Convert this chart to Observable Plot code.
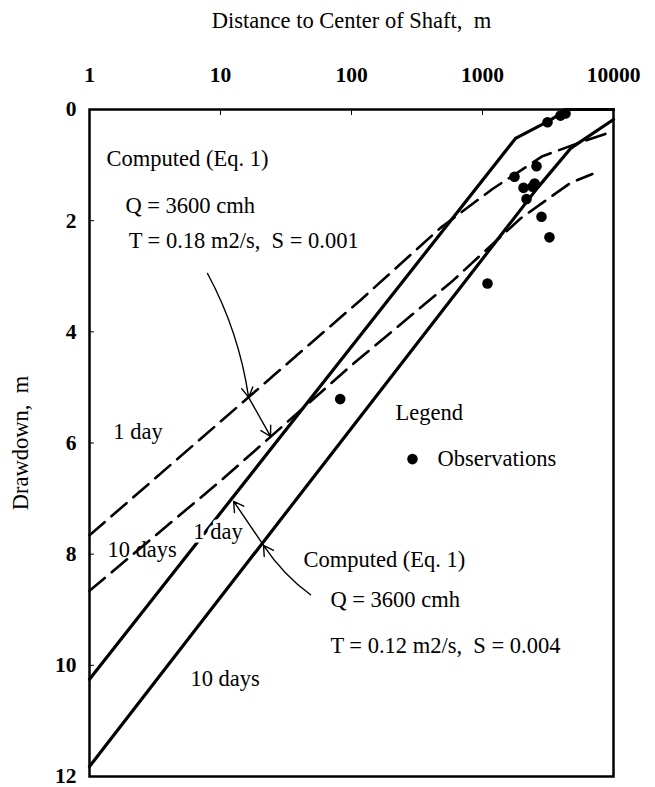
<!DOCTYPE html>
<html><head><meta charset="utf-8">
<script src="https://cdn.jsdelivr.net/npm/d3@7"></script>
<script src="https://cdn.jsdelivr.net/npm/@observablehq/plot@0.6"></script>
<style>body{margin:0;background:#fff} svg{display:block}</style>
</head><body><div id="chart"></div>
<script>
// ---- data (distance m, drawdown m) ----
const xTicks = [1, 10, 100, 1000, 10000];
const yTicks = [0, 2, 4, 6, 8, 10, 12];

// Computed (Eq. 1), T = 0.12 m2/s, S = 0.004 (solid)
const solid1Day   = [[1, 10.25], [1786, 0.52], [3190, 0.21], [4460, 0], [10000, 0]];
const solid10Days = [[1, 11.82], [2630, 1.41], [4700, 0.70], [10000, 0.18]];
// Computed (Eq. 1), T = 0.18 m2/s, S = 0.001 (dashed)
const dashed1Day   = [[1, 7.66], [117, 3.43], [478, 2.13], [1192, 1.43], [2870, 0.84], [5300, 0.61], [10000, 0.39]];
const dashed10Days = [[1, 8.66], [10.5, 6.64], [98, 4.62], [600, 3.07], [1950, 1.96], [4700, 1.32], [6900, 1.16]];

const observations = [[82, 5.21], [1092, 3.13], [1755, 1.21], [2056, 1.41], [2410, 1.39], [2500, 1.33],
  [2168, 1.61], [2585, 1.02], [2820, 1.93], [3245, 2.30], [3135, 0.23], [3940, 0.11], [4300, 0.07]];

const notes = [
  {x: 1.35, y: 0.89, text: "Computed (Eq. 1)"},
  {x: 1.88, y: 1.73, text: "Q = 3600 cmh"},
  {x: 1.99, y: 2.36, text: "T = 0.18 m2/s,\u00a0 S = 0.001"},
  {x: 1.52, y: 5.80, text: "1 day"},
  {x: 1.37, y: 7.93, text: "10 days"},
  {x: 5.9,  y: 10.25, text: "10 days"},
  {x: 43,   y: 8.11, text: "Computed (Eq. 1)"},
  {x: 69,   y: 8.82, text: "Q = 3600 cmh"},
  {x: 69,   y: 9.64, text: "T = 0.12 m2/s,\u00a0 S = 0.004"},
  {x: 217,  y: 5.45, text: "Legend"},
  {x: 453,  y: 6.29, text: "Observations"}
];
const haloNotes = [{x: 6.2, y: 7.59, text: "1 day"}];
const legendDot = [[292, 6.29]];

const curvedArrows = [
  {x1: 7.96, y1: 2.95, x2: 16.4, y2: 5.18},
  {x1: 48.7, y1: 8.73, x2: 21.3, y2: 7.84}
];
const straightArrows = [
  {x1: 16.4, y1: 5.18, x2: 24.1, y2: 5.88},
  {x1: 21.3, y1: 7.84, x2: 12.6, y2: 7.05}
];

const FONT = "'Liberation Serif', 'Times New Roman', serif";
const FS = 22.5;

const chart = Plot.plot({
  width: 655,
  height: 787,
  marginTop: 109,
  marginRight: 42,
  marginBottom: 11,
  marginLeft: 89,
  style: {fontFamily: FONT, fontSize: "21px", background: "#fff", color: "#000"},
  x: {type: "log", domain: [1, 10000]},
  y: {domain: [0, 12], reverse: true},
  marks: [
    Plot.axisX({anchor: "top", ticks: xTicks, tickFormat: d => String(d), tickSize: -5, tickPadding: 33,
      fontSize: 21.5, fontWeight: "bold", label: null}),
    Plot.axisY({anchor: "left", ticks: yTicks, tickFormat: d => String(d), tickSize: -5, tickPadding: 18,
      fontSize: 21.5, fontWeight: "bold", label: null}),
    Plot.text(["Distance to Center of Shaft,\u00a0 m"], {frameAnchor: "top", dy: -89, lineAnchor: "middle", textAnchor: "middle", fontSize: FS}),
    Plot.text(["Drawdown,\u00a0 m"], {frameAnchor: "left", dx: -69, rotate: -90, lineAnchor: "middle", textAnchor: "middle", fontSize: FS}),
    Plot.line(dashed1Day, {x: d => d[0], y: d => d[1], stroke: "#000", strokeWidth: 2.6, strokeDasharray: "20,9"}),
    Plot.line(dashed10Days, {x: d => d[0], y: d => d[1], stroke: "#000", strokeWidth: 2.6, strokeDasharray: "20,9"}),
    Plot.line(solid1Day, {x: d => d[0], y: d => d[1], stroke: "#000", strokeWidth: 3.2}),
    Plot.line(solid10Days, {x: d => d[0], y: d => d[1], stroke: "#000", strokeWidth: 3.2}),
    Plot.arrow(curvedArrows, {x1: "x1", y1: "y1", x2: "x2", y2: "y2", bend: 10, stroke: "#000", strokeWidth: 1.4, headLength: 12}),
    Plot.arrow(straightArrows, {x1: "x1", y1: "y1", x2: "x2", y2: "y2", stroke: "#000", strokeWidth: 1.4, headLength: 12}),
    Plot.dot(observations, {x: d => d[0], y: d => d[1], r: 5.3, fill: "#000"}),
    Plot.dot(legendDot, {x: d => d[0], y: d => d[1], r: 5.3, fill: "#000"}),
    Plot.text(notes, {x: "x", y: "y", text: "text", textAnchor: "start", fontSize: FS, fill: "#000"}),
    Plot.text(haloNotes, {x: "x", y: "y", text: "text", textAnchor: "start", fontSize: FS, fill: "#000", stroke: "#fff", strokeWidth: 7}),
    Plot.frame({stroke: "#000", strokeWidth: 2.5})
  ]
});
document.getElementById("chart").appendChild(chart);
</script>
</body></html>
